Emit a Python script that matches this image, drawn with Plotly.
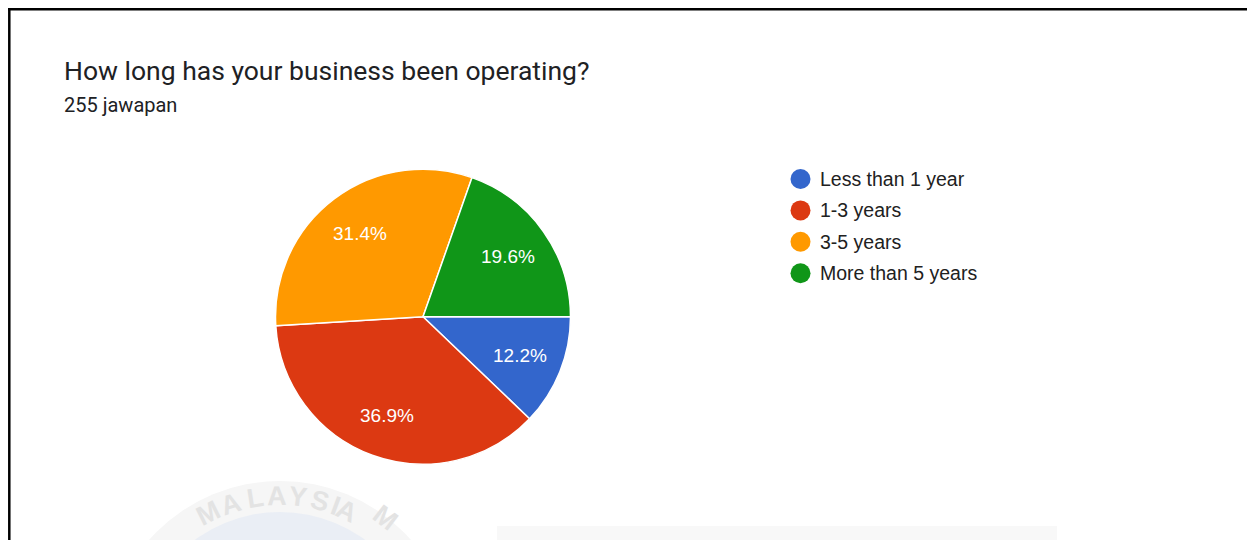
import numpy as np
import plotly.graph_objects as go

# Survey answers
categories = ["Less than 1 year", "1-3 years", "3-5 years", "More than 5 years"]
counts = [31, 94, 80, 50]
colors = ["#3366cc", "#dc3912", "#ff9900", "#109618"]
title_text = "How long has your business been operating?"
subtitle_text = "255 jawapan"

W, H = 1247, 540
cx, cy, R = 423.0, 316.7, 147.5   # pie centre / radius in pixels

fig = go.Figure()

# Pie, placed in paper coordinates
fig.add_trace(go.Pie(
    labels=categories, values=counts, sort=False, direction="clockwise",
    rotation=90, marker=dict(colors=colors, line=dict(color="white", width=1.5)),
    textinfo="none", hoverinfo="label+percent", showlegend=False,
    domain=dict(x=[(cx - R) / W, (cx + R) / W],
                y=[(H - cy - R) / H, (H - cy + R) / H]),
))

annotations = []

# Percentage labels along each slice bisector
vals = np.array(counts, dtype=float)
frac = vals / vals.sum()
mid = np.cumsum(frac) - frac / 2
ang = np.deg2rad(mid * 360.0)           # clockwise from 3 o'clock
lx = cx + 0.71 * R * np.cos(ang)
ly = cy + 0.71 * R * np.sin(ang)
for x, y, p in zip(lx, ly, frac):
    annotations.append(dict(
        x=x, y=y, xref="x", yref="y", text=f"{p * 100:.1f}%", showarrow=False,
        xanchor="center", yanchor="middle",
        font=dict(family="Liberation Sans, Arial", size=19, color="white"),
    ))

# Legend: coloured dots with labels
leg_x, leg_y0, leg_dy = 800.5, 179.0, 31.4
leg_y = [leg_y0 + i * leg_dy for i in range(len(categories))]
fig.add_trace(go.Scatter(
    x=[leg_x] * len(categories), y=leg_y, mode="markers",
    marker=dict(size=20, color=colors, line=dict(width=0)),
    hoverinfo="skip", showlegend=False,
))
for name, yy in zip(categories, leg_y):
    annotations.append(dict(
        x=817.5, y=yy, xref="x", yref="y", text=name, showarrow=False,
        xanchor="left", yanchor="middle",
        font=dict(family="Liberation Sans, Arial", size=19.5, color="#212121"),
    ))

# Heading
annotations.append(dict(
    x=62, y=70.5, xref="x", yref="y", text=title_text, showarrow=False,
    xanchor="left", yanchor="middle",
    font=dict(family="Roboto", size=26.5, color="#202124"),
))
annotations.append(dict(
    x=61.5, y=104.5, xref="x", yref="y", text=subtitle_text, showarrow=False,
    xanchor="left", yanchor="middle",
    font=dict(family="Roboto", size=20, color="#202124"),
))

# Faint seal in the lower-left corner
sx, sy = 280.0, 656.0
shapes = [
    dict(type="circle", xref="x", yref="y", x0=sx - 175, x1=sx + 175,
         y0=sy - 175, y1=sy + 175, fillcolor="#f6f6f6", line=dict(width=0),
         layer="below"),
    dict(type="circle", xref="x", yref="y", x0=sx - 144, x1=sx + 144,
         y0=sy - 144, y1=sy + 144, fillcolor="#eaeef5", line=dict(width=0),
         layer="below"),
]
seal_letters = list("MALAYSIA") + ["M"]
seal_angles = [-26.6, -17.8, -8.9, -1.2, 6.6, 14.3, 20.4, 24.8, 37.5]
seal_radius = [160, 160, 160, 160, 160, 160, 160, 160, 174]
for ch, a, r in zip(seal_letters, seal_angles, seal_radius):
    t = np.deg2rad(a)
    annotations.append(dict(
        x=sx + r * np.sin(t), y=sy - r * np.cos(t), xref="x", yref="y",
        text=f"<b>{ch}</b>", showarrow=False, textangle=a,
        xanchor="center", yanchor="middle",
        font=dict(family="Liberation Sans", size=27, color="#e3e3e3"),
    ))

# Pale panel along the bottom edge
shapes.append(dict(type="rect", xref="x", yref="y", x0=497, x1=1057, y0=526, y1=545,
                   fillcolor="#f8f8f8", line=dict(width=0), layer="below"))

# Black frame on the left and top
shapes.append(dict(type="line", xref="x", yref="y", x0=9.3, x1=9.3, y0=8, y1=545,
                   line=dict(color="black", width=2.5)))
shapes.append(dict(type="line", xref="x", yref="y", x0=8, x1=1250, y0=9.3, y1=9.3,
                   line=dict(color="black", width=2.5)))

fig.update_layout(
    width=W, height=H, margin=dict(l=0, r=0, t=0, b=0),
    paper_bgcolor="white", plot_bgcolor="rgba(0,0,0,0)",
    xaxis=dict(range=[0, W], visible=False, fixedrange=True),
    yaxis=dict(range=[H, 0], visible=False, fixedrange=True),
    annotations=annotations, shapes=shapes, showlegend=False,
)

fig.write_html("out.html")
